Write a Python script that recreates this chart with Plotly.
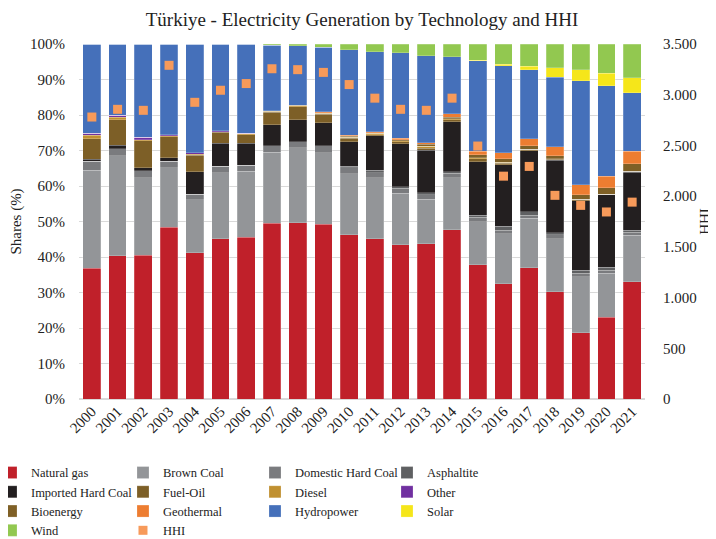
import plotly.graph_objects as go

years = [str(y) for y in range(2000, 2022)]

natural_gas = [36.9, 40.3, 40.5, 48.4, 41.2, 45.2, 45.6, 49.5, 49.7, 49.2, 46.3, 45.2, 43.5, 43.8, 47.7, 37.8, 32.5, 37.0, 30.2, 18.7, 23.0, 33.0]
brown_coal = [27.6, 28.2, 21.8, 16.7, 14.9, 18.5, 18.6, 20.0, 21.1, 20.1, 17.2, 17.1, 14.5, 12.5, 14.6, 12.1, 14.0, 13.9, 14.9, 15.8, 12.4, 13.1]
domestic_hard_coal = [2.5, 2.0, 2.0, 1.9, 1.6, 1.9, 1.7, 1.8, 1.6, 2.0, 1.7, 1.5, 1.3, 1.3, 1.3, 1.3, 1.1, 0.8, 1.1, 0.9, 0.8, 0.9]
asphaltite = [0, 0, 0, 0, 0, 0, 0, 0, 0, 0, 0.4, 0.6, 0.5, 0.5, 0.4, 0.5, 1.1, 1.0, 0.6, 0.8, 0.9, 0.6]
imported_hard_coal = [0.5, 1.0, 0.9, 1.0, 6.3, 6.4, 6.1, 6.0, 6.3, 6.5, 6.9, 9.7, 12.1, 12.0, 14.1, 15.1, 17.3, 17.2, 20.5, 19.7, 20.4, 16.3]
fuel_oil = [5.8, 7.1, 7.5, 5.9, 4.6, 3.1, 2.5, 3.5, 3.6, 2.4, 1.0, 0.4, 0.5, 0.5, 0.6, 0.9, 0.4, 0.4, 0.3, 0.3, 0.2, 0.2]
diesel = [1.0, 0.8, 0.3, 0.2, 0.3, 0.2, 0.2, 0.3, 0.3, 0.3, 0.3, 0.3, 0.4, 0.6, 0.2, 0.3, 0.3, 0.1, 0.1, 0.0, 0.0, 0.0]
other = [0.6, 0.6, 0.7, 0.4, 0.4, 0.2, 0.1, 0, 0, 0, 0, 0, 0, 0, 0, 0, 0, 0, 0, 0, 0, 0]
bioenergy = [0, 0, 0, 0, 0, 0, 0.1, 0.1, 0.1, 0.2, 0.2, 0.2, 0.3, 0.5, 0.5, 0.8, 1.0, 0.9, 0.8, 1.3, 1.8, 2.1]
geothermal = [0, 0, 0, 0, 0, 0, 0, 0, 0, 0.2, 0.3, 0.3, 0.4, 0.5, 0.9, 1.0, 1.6, 2.0, 2.6, 2.9, 3.3, 3.6]
hydropower = [25.1, 20.0, 26.3, 25.5, 30.7, 24.5, 25.0, 18.5, 16.8, 18.2, 24.1, 22.5, 24.0, 24.5, 16.1, 25.5, 24.6, 19.5, 19.6, 29.3, 25.5, 16.5]
solar = [0, 0, 0, 0, 0, 0, 0, 0, 0, 0, 0, 0, 0, 0, 0, 0.1, 0.4, 1.0, 2.6, 3.1, 3.5, 4.2]
wind = [0, 0, 0, 0, 0, 0, 0.1, 0.3, 0.5, 0.9, 1.6, 2.2, 2.5, 3.3, 3.6, 4.6, 5.7, 6.2, 6.7, 7.2, 8.2, 9.5]
hhi = [2780, 2856, 2846, 3290, 2925, 3044, 3110, 3256, 3247, 3220, 3100, 2966, 2856, 2846, 2966, 2494, 2197, 2293, 2008, 1909, 1844, 1941]

series = [
    ("Natural gas", natural_gas, "#C0202A"),
    ("Brown Coal", brown_coal, "#939598"),
    ("Domestic Hard Coal", domestic_hard_coal, "#7A7B7E"),
    ("Asphaltite", asphaltite, "#5F6062"),
    ("Imported Hard Coal", imported_hard_coal, "#231F20"),
    ("Fuel-Oil", fuel_oil, "#7D5F27"),
    ("Diesel", diesel, "#C09030"),
    ("Other", other, "#7030A0"),
    ("Bioenergy", bioenergy, "#7F6026"),
    ("Geothermal", geothermal, "#ED7D31"),
    ("Hydropower", hydropower, "#4570BA"),
    ("Solar", solar, "#F5E61A"),
    ("Wind", wind, "#92C850"),
]

FONT = "Liberation Serif"

fig = go.Figure()
for name, vals, col in series:
    fig.add_trace(go.Bar(
        x=years, y=vals, name=name,
        marker=dict(color=col, line=dict(color="rgba(255,255,255,0.35)", width=0.6)),
    ))

fig.add_trace(go.Scatter(
    x=years, y=hhi, name="HHI", mode="markers", yaxis="y2",
    marker=dict(symbol="square", size=9, color="#F79A5A"),
))

fig.update_layout(
    width=708, height=531,
    barmode="stack", bargap=0.31,
    separators=",.",
    plot_bgcolor="white", paper_bgcolor="white",
    font=dict(family=FONT, size=15, color="#222"),
    margin=dict(l=71, r=71, t=36, b=140, autoexpand=False),
    title=dict(text="Türkiye - Electricity Generation by Technology and HHI",
               x=0.5, xref="paper", y=0.979, yanchor="middle",
               font=dict(family=FONT, size=19, color="#222")),
    xaxis=dict(type="category", range=[-0.5, 21.5], tickangle=-45, tickfont=dict(size=15),
               showgrid=False, ticks="", showline=False, automargin=False),
    yaxis=dict(range=[0, 100], dtick=10, ticksuffix="%", showgrid=True,
               gridcolor="#D9D9D9", gridwidth=1, zeroline=True, zerolinecolor="#D9D9D9",
               ticks="", ticklabelstandoff=13, automargin=False,
               title=dict(text="Shares (%)", standoff=8, font=dict(size=15))),
    yaxis2=dict(range=[0, 3500], dtick=500, overlaying="y", side="right",
                tickformat=",d", showgrid=False, zeroline=False,
                ticks="", ticklabelstandoff=17, automargin=False,
                title=dict(text="HHI", standoff=3, font=dict(size=15))),
    legend=dict(orientation="h", x=-0.1555, xanchor="left", y=-0.166, yanchor="top",
                entrywidth=87, entrywidthmode="pixels", traceorder="normal",
                font=dict(family=FONT, size=12.5), itemwidth=30, tracegroupgap=0),
)

fig.write_html("out.html")
